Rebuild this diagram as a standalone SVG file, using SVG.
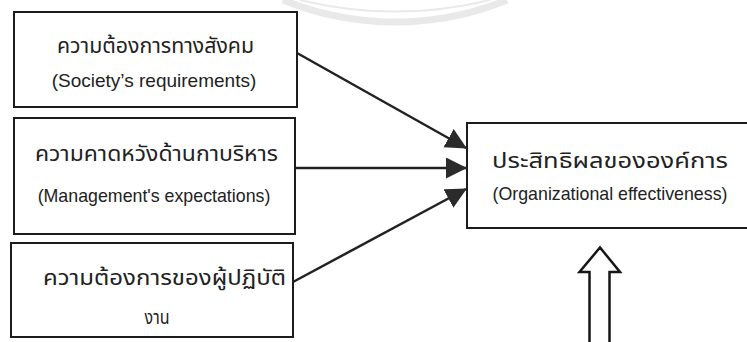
<svg xmlns="http://www.w3.org/2000/svg" width="747" height="342" viewBox="0 0 747 342">
  <style>
    .box { fill: #ffffff; stroke: #1c1c1c; stroke-width: 2; }
    .th { font-family: "Noto Sans Thai", "Loma", "Garuda", "Liberation Sans", sans-serif; font-size: 22px; fill: #222222; text-anchor: middle; }
    .en { font-family: "Liberation Sans", Arial, sans-serif; font-size: 17.8px; fill: #222222; text-anchor: middle; }
    .link { stroke: #222222; stroke-width: 2.5; fill: none; marker-end: url(#head); }
    .big { fill: #ffffff; stroke: #161616; stroke-width: 2.5; stroke-linejoin: miter; }
    .mark { fill: none; stroke: #e9e9e9; }
  </style>
  <defs>
    <marker id="head" markerUnits="userSpaceOnUse" markerWidth="22" markerHeight="22" refX="20" refY="10.5" orient="auto">
      <path d="M0,0 L21,10.5 L0,21 Z" fill="#2b2b2b"/>
    </marker>
  </defs>

  <rect width="747" height="342" fill="#ffffff"/>

  <!-- faint seal ring at the top edge -->
  <path class="mark" stroke-width="7" d="M283,0 A296,296 0 0 0 507,0"/>
  <path class="mark" stroke-width="2" d="M300,0 A400,400 0 0 0 490,0"/>

  <g id="society">
    <rect class="box" x="14" y="12" width="283" height="95"/>
    <text class="th" x="155.5" y="53" textLength="197" lengthAdjust="spacingAndGlyphs">ความต้องการทางสังคม</text>
    <text class="en" x="154" y="87" style="font-size:19px">(Society’s requirements)</text>
  </g>

  <g id="management">
    <rect class="box" x="14" y="118" width="281" height="116"/>
    <text class="th" x="156.5" y="161" textLength="243" lengthAdjust="spacingAndGlyphs">ความคาดหวังด้านกาบริหาร</text>
    <text class="en" x="154" y="202">(Management's expectations)</text>
  </g>

  <g id="workers">
    <rect class="box" x="11" y="243" width="282" height="94"/>
    <text class="th" x="164.5" y="285" textLength="243" lengthAdjust="spacingAndGlyphs">ความต้องการของผู้ปฏิบัติ</text>
    <text class="th" x="157" y="324" style="font-size:20px" textLength="25" lengthAdjust="spacingAndGlyphs">งาน</text>
  </g>

  <g id="effectiveness">
    <rect class="box" x="467" y="123" width="290" height="105"/>
    <text class="th" x="610" y="168" textLength="236" lengthAdjust="spacingAndGlyphs">ประสิทธิผลขององค์การ</text>
    <text class="en" x="610" y="200">(Organizational effectiveness)</text>
  </g>

  <g id="connectors">
    <line class="link" x1="297" y1="53" x2="466" y2="148"/>
    <line class="link" x1="295" y1="168" x2="466" y2="168"/>
    <line class="link" x1="293" y1="282" x2="466" y2="189"/>
  </g>

  <g id="input-arrow">
    <polygon class="big" points="589.5,344 589.5,272 579.5,272 600,247.5 620,272 609.5,272 609.5,344"/>
  </g>
</svg>
